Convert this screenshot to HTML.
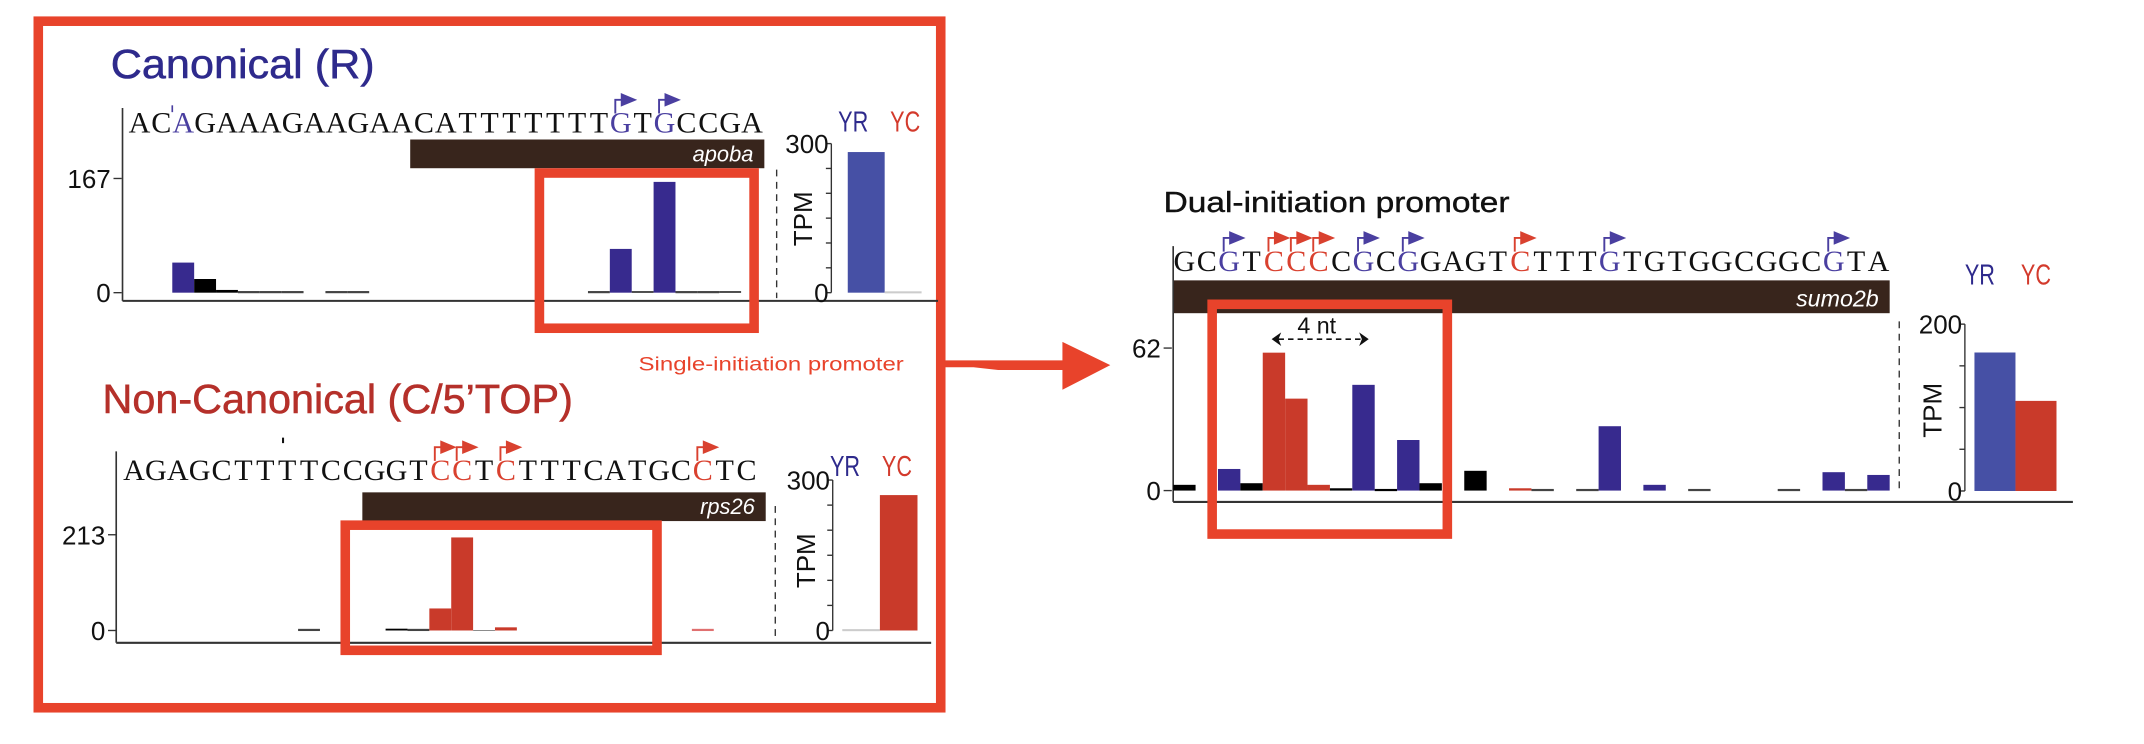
<!DOCTYPE html>
<html><head><meta charset="utf-8"><style>
html,body{margin:0;padding:0;background:#fff;}
svg{display:block;}
</style></head><body>
<svg id="fig" xmlns="http://www.w3.org/2000/svg" width="2144" height="744" viewBox="0 0 1568 544" preserveAspectRatio="none" font-family="Liberation Sans, sans-serif">
  <rect x="0" y="0" width="1568" height="544" fill="#fff"/>
  <rect x="28" y="15.5" width="660" height="502" fill="none" stroke="#e8432b" stroke-width="7"/>
  <text x="81" y="57" font-size="30" fill="#2e2a8c" textLength="193" lengthAdjust="spacingAndGlyphs" stroke="#2e2a8c" stroke-width="0.4">Canonical (R)</text>
  <text x="75" y="302" font-size="30" fill="#b5302a" textLength="344" lengthAdjust="spacingAndGlyphs" stroke="#b5302a" stroke-width="0.4">Non-Canonical (C/5’TOP)</text>
  <text x="467" y="271" font-size="14" fill="#e8432b" textLength="194" lengthAdjust="spacingAndGlyphs">Single-initiation promoter</text>
  <text x="851" y="155" font-size="21" fill="#111" textLength="253" lengthAdjust="spacingAndGlyphs" stroke="#111" stroke-width="0.3">Dual-initiation promoter</text>
  <g>
    <polygon points="691,263.5 777,263.5 777,250 812,267 777,285 777,270.5 730,270.5 712,268.5 691,268.5" fill="#e8432b"/>
  </g>
  <g id="panels"></g>
</svg>
<script>
// ---- Panel 1: canonical (apoba) ----
const canonSeq = "ACAGAAAGAAGAACATTTTTTTGTGCCGA";
const canonSeqColor = {2:'b',22:'b',24:'b'};
const canonStarts = [22,24];
const canonPos  = [2,3,4,5,6,7,9,10,21,22,23,24,25,26,27];
const canonVal  = [44,20,4,0,0,0,0,0,0,64,2,162,0,0,2];
const canonType = ['b','k','k','z','z','z','z','z','z','b','k','b','z','z','k'];
const canonTicks = [0,167];
const canonTpmLabels = ['YR','YC'];
const canonTpm = [283,0];
// ---- Panel 2: non-canonical (rps26) ----
const ncSeq = "AGAGCTTTTCCGGTCCTCTTTCATGCCTC";
const ncSeqColor = {14:'r',15:'r',17:'r',26:'r'};
const ncStarts = [14,15,17,26];
const ncPos  = [8,12,13,14,15,16,17,26];
const ncVal  = [0,4,0,49,207,1,7,0];
const ncType = ['z','k','z','r','r','k','r','p'];
const ncTicks = [0,213];
const ncTpm = [0,270];
// ---- Panel 3: dual initiation (sumo2b) ----
const dualSeq = "GCGTCCCCGCGGAGTCTTTGTGTGGCGGCGTA";
const dualSeqColor = {2:'b',4:'r',5:'r',6:'r',8:'b',10:'b',15:'r',19:'b',29:'b'};
const dualStarts = [2,4,5,6,8,10,15,19,29];
const dualPos  = [0,2,3,4,5,6,7,8,9,10,11,13,15,16,18,19,21,23,27,29,30,31];
const dualVal  = [2.5,9.4,3.2,60,40,2.5,1,46,0.3,22,3.2,8.6,1,0,0,28,2.5,0,0,8,0,6.8];
const dualType = ['k','b','k','r','r','r','k','b','k','b','k','k','r','z','z','b','b','z','z','b','z','b'];
const dualTicks = [0,62];
const dualTpm = [166,108];
const tpmTicks1 = [0,50,100,150,200,250,300];
const tpmTicks3 = [0,50,100,150,200];

const NS='http://www.w3.org/2000/svg';
const root=document.getElementById('panels');
const COL={b:'#372a8e',r:'#c93a2a',k:'#000',z:'#444',p:'#e07070'};
const SEQCOL={b:'#4a3fa0',r:'#d9412f'};
function mk(tag,attrs,parent){const e=document.createElementNS(NS,tag);for(const k in attrs)e.setAttribute(k,attrs[k]);(parent||root).appendChild(e);return e;}

function panel(o){
  const g=mk('g',{});
  
  
  const step=o.step, x0=o.x0;
  const xs=i=>x0+i*step;
  const ys=v=>o.base-(v/o.ref)*(o.base-o.refY);
  // sequence
  const st=mk('text',{y:o.seqY,'font-size':o.seqSize,'font-family':'Liberation Serif, serif'},g);
  
  
  for(let i=0;i<o.seq.length;i++){
    const t=mk('tspan',{x:xs(i)+step/2,'text-anchor':'middle',fill:o.seqColor[i]?SEQCOL[o.seqColor[i]]:'#111'},st);
    t.textContent=o.seq[i];
  }
  // TSS arrows
  o.starts.forEach(i=>{
    const c=SEQCOL[o.seqColor[i]]||'#333';
    const sx=xs(i)+step/2-4, by=o.seqY-14, ty=o.seqY-24;
    const a=mk('path',{d:`M${sx},${by} L${sx},${ty} L${sx+5},${ty}`,stroke:c,'stroke-width':1.4,fill:'none'},g);
    
    
    const h=mk('polygon',{points:`${sx+4},${ty-5} ${sx+16},${ty} ${sx+4},${ty+5}`,fill:c},g);
    
    
  });
  // gene bar
  const gb=mk('rect',{x:o.gene[0],y:o.gene[1],width:o.gene[2]-o.gene[0],height:o.gene[3]-o.gene[1],fill:'#38251c'},g);
  
  
  const gt=mk('text',{x:o.gene[2]-8,y:o.gene[3]-5,'font-size':o.geneSize,'font-style':'italic',fill:'#fff','text-anchor':'end'},g);
  
  
  gt.textContent=o.geneName;
  // axes
  const ya=mk('line',{x1:o.axX,y1:o.axTop,x2:o.axX,y2:o.axBot,stroke:'#333','stroke-width':1.2},g);
  
  
  const xa=mk('line',{x1:o.axX,y1:o.axBot,x2:o.axRight,y2:o.axBot,stroke:'#333','stroke-width':1.5},g);
  
  
  o.ticks.forEach(v=>{
    const y=ys(v);
    const tl=mk('line',{x1:o.tickX,y1:y,x2:o.tickX+6,y2:y,stroke:'#333','stroke-width':1},g);
    
    
    const tt=mk('text',{x:o.tickX-2,y:y+7,'font-size':19,'text-anchor':'end',fill:'#111'},g);
    
    
    tt.textContent=v;
  });
  // bars
  o.pos.forEach((p,k)=>{
    const v=o.val[k], t=o.type[k], x=xs(p);
    if(t==='z'||v<=0.5){
      const l=mk('rect',{x:x,y:o.base-1.2,width:step,height:1.6,fill:t==='p'?COL.p:(t==='z'?'#444':COL[t])},g);
      
      
    } else {
      const y=ys(v);
      const r=mk('rect',{x:x,y:y,width:step,height:o.base-y,fill:COL[t]},g);
      
      
    }
  });
  // dashed separator
  const ds=mk('line',{x1:o.dashX,y1:o.dash[0],x2:o.dashX,y2:o.dash[1],stroke:'#333','stroke-width':1,'stroke-dasharray':'5,4'},g);
  
  
  // TPM inset
  const T=o.tpm;
  const tys=v=>T.base-(v/T.max)*(T.base-T.top);
  const ta=mk('line',{x1:T.ax,y1:T.top,x2:T.ax,y2:T.base,stroke:'#333','stroke-width':1},g);
  
  
  T.ticks.forEach(v=>{
    const y=tys(v);
    const l=mk('line',{x1:T.ax-4,y1:y,x2:T.ax,y2:y,stroke:'#333','stroke-width':1},g);
    
    
  });
  [0,T.max].forEach(v=>{
    const tt=mk('text',{x:T.ax-2,y:tys(v)+7,'font-size':19,'text-anchor':'end',fill:'#111'},g);
    
    
    tt.textContent=v;
  });
  const tl=mk('text',{x:0,y:0,'font-size':19,'text-anchor':'middle',fill:'#111',transform:`translate(${T.lx},${T.ly}) rotate(-90)`},g);
  
  
  tl.textContent='TPM';
  T.vals.forEach((v,k)=>{
    const x=T.bx+k*T.bw;
    const c=k===0?'#4650a5':'#c93a2a';
    if(v<=0){
      const l=mk('rect',{x:x,y:T.base-1,width:T.bw,height:1.5,fill:'#ccc'},g);
      
      
    } else {
      const y=tys(v);
      const r=mk('rect',{x:x,y:y,width:T.bw,height:T.base-y,fill:c},g);
      
      
    }
  });
  canonTpmLabels.forEach((lab,k)=>{
    const t=mk('text',{x:T.labX[k],y:T.labY,'font-size':21,fill:k===0?'#2e2a8c':'#d33a2c',textLength:22,lengthAdjust:'spacingAndGlyphs'},g);
    
    
    t.textContent=lab;
  });
  // highlight box
  const hb=mk('rect',{x:o.hl[0],y:o.hl[1],width:o.hl[2]-o.hl[0],height:o.hl[3]-o.hl[1],fill:'none',stroke:'#e8432b','stroke-width':7},g);
  
  
  return g;
}

panel({name:'canonical-panel',seq:canonSeq,seqColor:canonSeqColor,starts:canonStarts,pos:canonPos,val:canonVal,type:canonType,ticks:canonTicks,
  x0:94,step:16,seqY:97,seqSize:22,gene:[300,102,559,123],geneName:'apoba',geneSize:16,
  base:214,ref:167,refY:130.5,axX:89.6,axTop:79,axBot:220,axRight:686,tickX:83,
  dashX:568,dash:[124,218],hl:[394.5,126.5,551.5,240],
  tpm:{ax:608,top:105,base:214,max:300,ticks:tpmTicks1,vals:canonTpm,bx:620,bw:27,lx:594,ly:160,labX:[613,651],labY:96}});
panel({name:'noncanonical-panel',seq:ncSeq,seqColor:ncSeqColor,starts:ncStarts,pos:ncPos,val:ncVal,type:ncType,ticks:ncTicks,
  x0:90,step:16,seqY:351,seqSize:22,gene:[265,360,560,381],geneName:'rps26',geneSize:16,
  base:461,ref:213,refY:391,axX:85,axTop:330,axBot:470,axRight:681,tickX:79,
  dashX:567,dash:[370,467],hl:[252.5,384,480.5,475.5],
  tpm:{ax:609,top:351,base:461,max:300,ticks:tpmTicks1,vals:ncTpm,bx:616,bw:27.5,lx:596,ly:410,labX:[607,645],labY:348}});
panel({name:'dual-panel',seq:dualSeq,seqColor:dualSeqColor,starts:dualStarts,pos:dualPos,val:dualVal,type:dualType,ticks:dualTicks,
  x0:858,step:16.375,seqY:198,seqSize:22,gene:[858,205,1382,229],geneName:'sumo2b',geneSize:17,
  base:358.7,ref:62,refY:254.5,axX:858,axTop:180,axBot:367,axRight:1516,tickX:851,
  dashX:1389,dash:[235,361],hl:[886.5,222.5,1058.5,390.5],
  tpm:{ax:1437,top:237,base:359,max:200,ticks:tpmTicks3,vals:dualTpm,bx:1444,bw:30,lx:1420,ly:300,labX:[1437,1478],labY:208}});

// extras
const ex=mk('g',{});


mk('line',{x1:126,y1:77,x2:126,y2:82,stroke:'#4a3fa0','stroke-width':1.2},ex);
mk('line',{x1:207,y1:320,x2:207,y2:324,stroke:'#111','stroke-width':1.5},ex);
const nt=mk('text',{x:963,y:244,'font-size':17,'text-anchor':'middle',fill:'#111'},ex);


nt.textContent='4 nt';
mk('line',{x1:935,y1:248,x2:996,y2:248,stroke:'#111','stroke-width':1.2,'stroke-dasharray':'4,3'},ex);
mk('polygon',{points:'930,248 937,243 935,248 937,253',fill:'#111'},ex);
mk('polygon',{points:'1001,248 994,243 996,248 994,253',fill:'#111'},ex);
</script>
</body></html>
